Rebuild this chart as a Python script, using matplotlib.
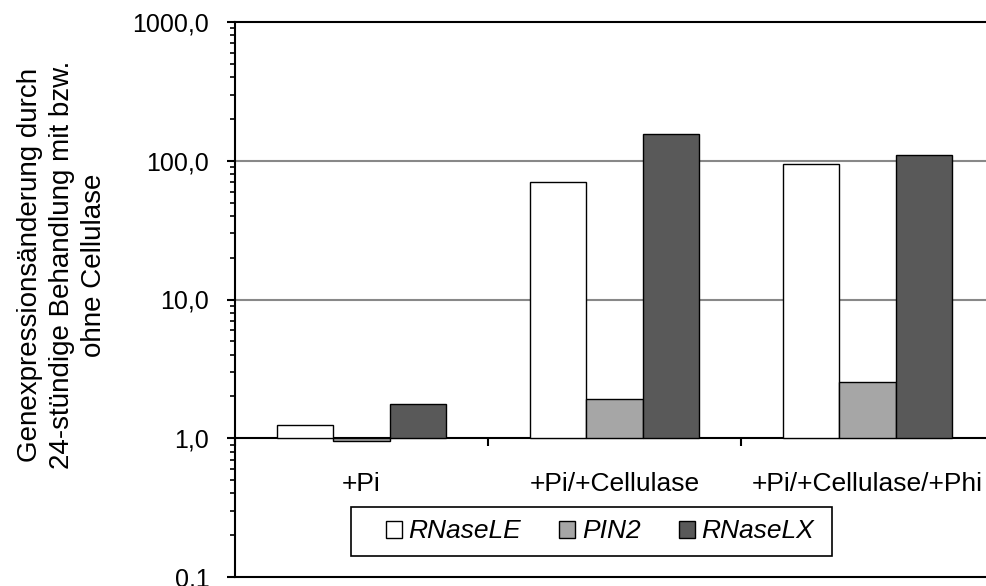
import numpy as np
import matplotlib
matplotlib.use('Agg')
import matplotlib.pyplot as plt
from matplotlib.patches import Patch, Rectangle
from matplotlib.ticker import FixedLocator, NullFormatter, LogLocator

plt.rcParams['font.family'] = ['Liberation Sans', 'DejaVu Sans']

# data
categories = ['+Pi', '+Pi/+Cellulase', '+Pi/+Cellulase/+Phi']
series = ['RNaseLE', 'PIN2', 'RNaseLX']
rnasele = [1.24, 70.3, 95.3]
pin2 = [0.96, 1.92, 2.53]
rnaselx = [1.76, 155.0, 110.0]
yticks = [0.1, 1, 10, 100, 1000]
ytick_labels = ['0,1', '1,0', '10,0', '100,0', '1000,0']
ylabel = 'Genexpressionsänderung durch\n24-stündige Behandlung mit bzw.\nohne Cellulase'

colors = ['#FFFFFF', '#A6A6A6', '#595959']

W, H = 986, 586
fig = plt.figure(figsize=(W/100, H/100), dpi=100)
# plot area runs past the right edge of the figure (cut off as in the reference)
ax = fig.add_axes([235/W, 1-577/H, (994-235)/W, (577-22)/H])

x = np.arange(len(categories))
bw = 1/4.5
for i, (vals, col) in enumerate(zip([rnasele, pin2, rnaselx], colors)):
    vals = np.array(vals)
    ax.bar(x + (i-1)*bw, vals-1, bottom=1, width=bw, color=col,
           edgecolor='k', linewidth=1.0, zorder=3)

ax.set_yscale('log')
ax.set_ylim(0.1, 1000)
ax.set_xlim(-0.5, len(categories)-0.5)

ax.yaxis.set_major_locator(FixedLocator(yticks))
ax.set_yticklabels(ytick_labels)
ax.yaxis.set_minor_locator(LogLocator(base=10, subs=np.arange(2, 10)))
ax.yaxis.set_minor_formatter(NullFormatter())
ax.tick_params(axis='y', which='major', direction='out', length=5.5, width=1.5,
               labelsize=18, pad=13)
ax.tick_params(axis='y', which='minor', direction='out', length=3.6, width=1.2)

for g in [10, 100]:
    ax.axhline(g, color='#888888', linewidth=1.5, zorder=1)

for s in ax.spines.values():
    s.set_linewidth(1.5)
    s.set_color('k')

# category axis sits at y = 1
ax.tick_params(axis='x', which='both', bottom=False, labelbottom=False)
sec = ax.secondary_xaxis(0.25)
sec.spines['bottom'].set_linewidth(1.5)
sec.set_xticks(np.arange(len(categories)+1) - 0.5)
sec.set_xticklabels([])
sec.set_xticks(x, minor=True)
sec.set_xticklabels(categories, minor=True)
sec.tick_params(axis='x', which='major', direction='out', length=5.5, width=1.5)
sec.tick_params(axis='x', which='minor', length=0, labelsize=19, pad=24)

fig.text(62/W, 1-265/H, ylabel, rotation=90, ha='center', va='center',
         multialignment='center', fontsize=20, linespacing=1.3)

# legend: entries without frame, box drawn separately
handles = [Patch(facecolor=c, edgecolor='k', linewidth=1.0) for c in colors]
leg = fig.legend(handles, series, loc='center left', ncol=3,
                 bbox_to_anchor=(386/W, 1-531.5/H), bbox_transform=fig.transFigure,
                 prop={'style': 'italic', 'size': 19}, frameon=False,
                 handlelength=0.6, handleheight=0.6, handletextpad=0.25,
                 columnspacing=1.45, borderpad=0, borderaxespad=0)
fig.patches.append(Rectangle((351/W, 1-556/H), 481/W, 49/H, transform=fig.transFigure,
                             fill=False, edgecolor='k', linewidth=1.2))

fig.savefig('out.png', dpi=100)
